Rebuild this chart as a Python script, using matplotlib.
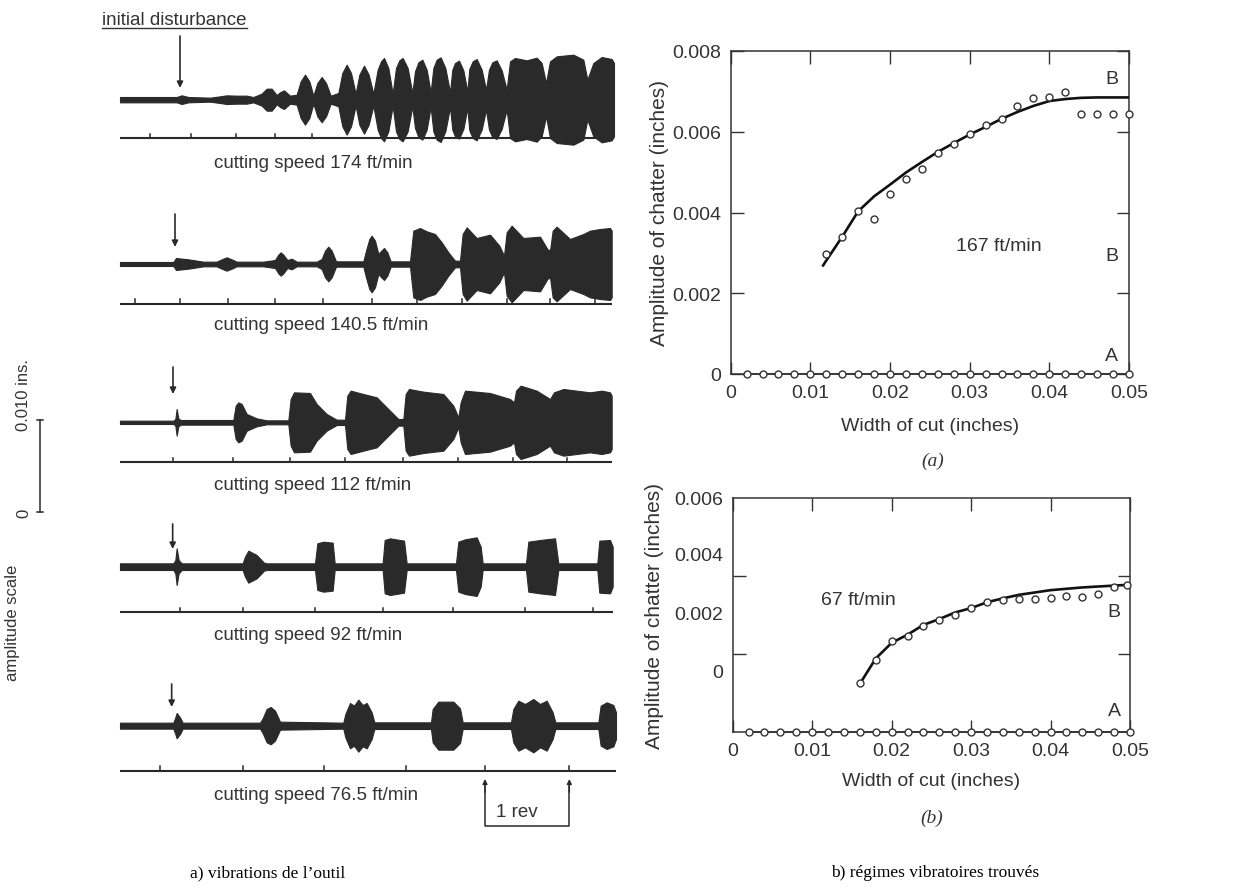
import matplotlib
matplotlib.use('Agg')
import matplotlib.pyplot as plt

plt.rcParams['font.family'] = ['Liberation Sans', 'DejaVu Sans']
INK = '#333333'
TRACE = '#2a2a2a'

# ---------------- data: chatter recordings (chart units / recorder units) ----------------
speeds = ['174', '140.5', '112', '92', '76.5']

trace1_t = [30, 200, 215, 235, 300, 330, 350, 380, 410, 430, 455, 470, 485, 500, 510, 522, 540, 560, 572, 585,
            598, 610, 622, 635, 648, 662, 685, 697, 710, 723, 737, 748, 762, 776, 790, 803, 813, 822, 835, 848,
            858, 868, 878, 893, 907, 915, 925, 937, 950, 962, 970, 980, 992, 1006, 1020, 1027, 1035, 1047, 1060,
            1072, 1078, 1088, 1100, 1115, 1128, 1137, 1147, 1160, 1175, 1190, 1200, 1215, 1250, 1280, 1295, 1308,
            1320, 1340, 1390, 1420, 1432, 1450, 1475, 1505, 1512]
trace1_a = [8, 8, 13, 8, 6, 10, 13, 12, 12, 8, 18, 33, 33, 14, 22, 28, 12, 15, 55, 75,
            55, 12, 50, 68, 50, 12, 20, 80, 105, 80, 18, 75, 102, 75, 18, 90, 115, 125, 95, 18,
            95, 118, 125, 95, 20, 85, 112, 120, 90, 22, 95, 120, 127, 95, 22, 90, 110, 117, 88,
            25, 92, 115, 122, 90, 30, 90, 112, 118, 88, 30, 115, 125, 118, 126, 110, 50,
            115, 130, 135, 120, 60, 110, 128, 122, 110]

trace2_t = [30, 190, 198, 235, 280, 320, 335, 350, 365, 380, 460, 495, 505, 512, 520, 532, 545, 560, 620, 635,
            645, 655, 665, 678, 760, 768, 778, 785, 795, 805, 812, 822, 832, 842, 900, 910, 930, 950, 975, 995,
            1015, 1035, 1050, 1058, 1070, 1100, 1140, 1168, 1182, 1190, 1205, 1240, 1290, 1312, 1320, 1328, 1340,
            1380, 1420, 1440, 1470, 1500, 1505]
trace2_a = [6, 6, 18, 14, 7, 7, 14, 20, 14, 7, 7, 12, 28, 35, 28, 12, 16, 7, 7, 15,
            40, 52, 40, 8, 8, 40, 75, 85, 70, 30, 38, 48, 35, 8, 8, 100, 108, 98, 90, 65,
            35, 10, 10, 90, 110, 78, 88, 55, 25, 95, 115, 78, 82, 45, 40, 100, 112,
            75, 90, 100, 105, 108, 100]

trace3_t = [30, 190, 196, 200, 205, 212, 370, 377, 385, 395, 410, 440, 470, 535, 542, 552, 600, 620, 650, 680,
            705, 712, 722, 760, 800, 840, 865, 880, 887, 897, 940, 1000, 1030, 1045, 1052, 1065, 1140, 1200, 1212,
            1218, 1232, 1280, 1320, 1332, 1360, 1400, 1440, 1475, 1500, 1505]
trace3_a = [5, 5, 10, 40, 12, 7, 7, 50, 60, 55, 25, 12, 6, 6, 70, 90, 88, 55, 25, 8,
            8, 80, 95, 85, 75, 35, 10, 10, 85, 100, 92, 85, 50, 15, 60, 95, 88, 70, 60,
            95, 110, 95, 70, 90, 100, 95, 90, 95, 90, 80]

trace4_t = [30, 190, 196, 200, 206, 215, 398, 405, 415, 440, 462, 470, 615, 622, 640, 668, 674, 818, 824, 840,
            882, 890, 1038, 1045, 1065, 1100, 1112, 1118, 1248, 1255, 1290, 1335, 1345, 1462, 1468, 1500, 1508]
trace4_a = [10, 10, 20, 55, 20, 10, 10, 30, 48, 35, 12, 10, 10, 70, 75, 72, 10, 10, 80, 85,
            78, 10, 10, 75, 82, 88, 60, 10, 10, 75, 80, 85, 10, 10, 78, 80, 60]

trace5_t = [30, 190, 196, 200, 210, 218, 450, 458, 470, 482, 495, 510, 700, 706, 720, 732, 745, 758, 770, 785,
            793, 963, 968, 985, 1030, 1050, 1058, 1203, 1210, 1225, 1245, 1270, 1290, 1310, 1328, 1336, 1465,
            1472, 1490, 1510, 1518]
trace5_a = [9, 9, 25, 38, 25, 9, 9, 22, 50, 56, 45, 12, 9, 35, 68, 60, 78, 62, 68, 40,
            10, 10, 50, 72, 72, 52, 10, 10, 50, 75, 65, 80, 65, 75, 40, 10, 10,
            60, 70, 62, 40]

rev_ticks = [[120, 243, 378, 495, 605],
             [75, 210, 355, 495, 640, 785, 920, 1055, 1190, 1320, 1455],
             [190, 370, 540, 705, 878, 1045, 1210, 1370],
             [210, 400, 615, 820, 1030, 1245, 1450],
             [150, 400, 643, 888, 1125, 1378]]
disturbance_t = [210, 195, 189, 188, 185]
scale_units = 276          # recorder units equal to 0.010 in
one_rev = [1125, 1378]     # chart units spanning 1 revolution (76.5 ft/min trace)

# ---------------- data: chatter amplitude vs width of cut ----------------
a_B_x = [0.012, 0.014, 0.016, 0.018, 0.020, 0.022, 0.024, 0.026, 0.028, 0.030,
         0.032, 0.034, 0.036, 0.038, 0.040, 0.042, 0.044, 0.046, 0.048, 0.050]
a_B_y = [0.00298, 0.00340, 0.00404, 0.00383, 0.00445, 0.00483, 0.00508, 0.00548, 0.00569, 0.00595,
         0.00616, 0.00631, 0.00663, 0.00684, 0.00685, 0.00698, 0.00643, 0.00643, 0.00643, 0.00643]
a_fit_x = [0.0116, 0.012, 0.014, 0.016, 0.018, 0.020, 0.022, 0.024, 0.026, 0.028, 0.030, 0.032,
           0.034, 0.036, 0.038, 0.040, 0.042, 0.044, 0.046, 0.048, 0.050]
a_fit_y = [0.00269, 0.00281, 0.00340, 0.00403, 0.00440, 0.00469, 0.00499, 0.00525, 0.00550, 0.00572,
           0.00593, 0.00612, 0.00632, 0.00649, 0.00664, 0.00676, 0.00681, 0.00684, 0.00685, 0.00685, 0.00685]
A_x = [0.002, 0.004, 0.006, 0.008, 0.010, 0.012, 0.014, 0.016, 0.018, 0.020, 0.022, 0.024, 0.026,
       0.028, 0.030, 0.032, 0.034, 0.036, 0.038, 0.040, 0.042, 0.044, 0.046, 0.048, 0.050]
A_y = [0.0] * len(A_x)

b_B_x = [0.016, 0.018, 0.020, 0.022, 0.024, 0.026, 0.028, 0.030, 0.032, 0.034,
         0.036, 0.038, 0.040, 0.042, 0.044, 0.046, 0.048, 0.0496]
b_B_y = [0.00126, 0.00186, 0.00235, 0.00246, 0.00271, 0.00287, 0.00300, 0.00318, 0.00333, 0.00339,
         0.00341, 0.00341, 0.00343, 0.00350, 0.00347, 0.00354, 0.00373, 0.00377]
b_fit_x = [0.016, 0.018, 0.020, 0.022, 0.024, 0.026, 0.028, 0.030, 0.032, 0.034, 0.036, 0.040, 0.044, 0.050]
b_fit_y = [0.00124, 0.00189, 0.00229, 0.00250, 0.00275, 0.00290, 0.00307, 0.00318, 0.00333, 0.00343,
           0.00352, 0.00364, 0.00371, 0.00378]

x_ticks = [0, 0.01, 0.02, 0.03, 0.04, 0.05]
x_labels = ['0', '0.01', '0.02', '0.03', '0.04', '0.05']
a_y_ticks = [0, 0.002, 0.004, 0.006, 0.008]
a_y_labels = ['0', '0.002', '0.004', '0.006', '0.008']
b_y_ticks = [0.002, 0.004]
b_y_label_pos = [0.001577, 0.003073, 0.004566, 0.006]
b_y_labels = ['0', '0.002', '0.004', '0.006']

# ---------------- layout ----------------
W, H = 1252, 895
fig = plt.figure(figsize=(W / 100, H / 100), dpi=100)

axL = fig.add_axes([0, 1 - 850 / H, 640 / W, 850 / H])
axL.set_xlim(-330, 1590)
axL.set_ylim(-2550, 0)
axL.axis('off')

base_u = [-302, -795, -1270, -1703, -2180]
ref_u = [-418, -915, -1390, -1840, -2315]
label_u = [-489, -976, -1458, -1908, -2388]
arrow_tail_u = [-111, -645, -1104, -1575, -2055]
arrow_tip_u = [-267, -744, -1185, -1650, -2124]
trace_t = [trace1_t, trace2_t, trace3_t, trace4_t, trace5_t]
trace_a = [trace1_a, trace2_a, trace3_a, trace4_a, trace5_a]

for i in range(5):
    b0 = base_u[i]
    t = trace_t[i]
    a = trace_a[i]
    axL.fill_between(t, [b0 - v for v in a], [b0 + v for v in a], color=TRACE, lw=0.8, edgecolor=TRACE)
    axL.plot([30, t[-1]], [ref_u[i], ref_u[i]], color=TRACE, lw=1.5, solid_capstyle='butt')
    for tk in rev_ticks[i]:
        axL.plot([tk, tk], [ref_u[i], ref_u[i] + 14], color=TRACE, lw=1.1)
    axL.annotate('', xy=(disturbance_t[i], arrow_tip_u[i]), xytext=(disturbance_t[i], arrow_tail_u[i]),
                 arrowprops=dict(arrowstyle='-|>', color=TRACE, lw=1.2, mutation_scale=9,
                                 shrinkA=0, shrinkB=0))
    axL.text(312, label_u[i], 'cutting speed %s ft/min' % speeds[i], ha='left', va='center',
             fontsize=13.5, color=INK)

# initial disturbance label (underlined)
tx = axL.text(-24, -75, 'initial disturbance', ha='left', va='baseline', fontsize=13.5, color=INK)
fig.canvas.draw()
bb = tx.get_window_extent()
inv = axL.transData.inverted()
x0d = inv.transform((bb.x0, bb.y0))[0]
x1d = inv.transform((bb.x1, bb.y0))[0]
axL.plot([x0d, x1d], [-86, -86], color=INK, lw=1.0)

# 1 rev bracket
r0, r1 = one_rev
axL.plot([r0, r0, r1, r1], [-2355, -2480, -2480, -2355], color=TRACE, lw=1.1)
for r in one_rev:
    axL.annotate('', xy=(r, -2340), xytext=(r, -2380),
                 arrowprops=dict(arrowstyle='-|>', color=TRACE, lw=1.0, mutation_scale=7,
                                 shrinkA=0, shrinkB=0))
axL.text(1158, -2439, '1 rev', ha='left', va='center', fontsize=13.5, color=INK)

# amplitude scale bar
bar_c = -210
bar_bottom = -1540
axL.plot([bar_c, bar_c], [bar_bottom, bar_bottom + scale_units], color=TRACE, lw=1.1)
for yy in (bar_bottom, bar_bottom + scale_units):
    axL.plot([bar_c - 8, bar_c + 8], [yy, yy], color=TRACE, lw=1.1)
axL.text(-258, bar_bottom, '0', rotation=90, ha='center', va='center', fontsize=12, color=INK)
axL.text(-258, -1185, '0.010 ins.', rotation=90, ha='center', va='center', fontsize=12, color=INK)
axL.text(-291, -1869, 'amplitude scale', rotation=90, ha='center', va='center', fontsize=12, color=INK)


def style(ax):
    for sp in ax.spines.values():
        sp.set_linewidth(1.1)
        sp.set_color(INK)
    ax.set_xlim(0, 0.05)
    ax.set_xticks(x_ticks, x_labels)
    ax.tick_params(which='major', direction='in', length=9, width=1.0, top=True, right=True,
                   colors=INK, labelsize=14, pad=7)


mk = dict(marker='o', ms=5, mfc='white', mec=INK, mew=1.0, clip_on=False, zorder=4)

# (a)
axA = fig.add_axes([730.7 / W, 1 - 375 / H, 398.3 / W, 323 / H])
style(axA)
axA.set_ylim(0, 0.008)
axA.set_yticks(a_y_ticks, a_y_labels)
axA.plot(a_fit_x, a_fit_y, color='#111111', lw=1.9, zorder=3)
axA.plot(A_x, A_y, color=INK, lw=1.2, clip_on=False, zorder=3)
axA.plot(A_x, A_y, ls='none', **mk)
axA.plot(a_B_x, a_B_y, ls='none', **mk)
axA.text(0.0478, 0.00731, 'B', ha='center', va='center', fontsize=14, color=INK)
axA.text(0.0478, 0.00293, 'B', ha='center', va='center', fontsize=14, color=INK)
axA.text(0.0478, 0.000455, 'A', ha='center', va='center', fontsize=14, color=INK)
axA.text(0.0336, 0.00318, '167 ft/min', ha='center', va='center', fontsize=14, color=INK)
axA.set_xlabel('Width of cut (inches)', fontsize=14, color=INK)
axA.xaxis.set_label_coords(0.5, -0.160)
axA.xaxis.label.set_va('center')
axA.set_ylabel('Amplitude of chatter (inches)', fontsize=15, color=INK)
axA.yaxis.set_label_coords(-0.180, 0.5)
axA.yaxis.label.set_va('center')

# (b)
axB = fig.add_axes([732.7 / W, 1 - 733.3 / H, 397.3 / W, 234.3 / H])
style(axB)
axB.set_ylim(0, 0.006)
axB.set_yticks(b_y_ticks, ['', ''])
axB.set_yticks(b_y_label_pos, b_y_labels, minor=True)
axB.tick_params(axis='y', which='minor', direction='in', length=0, right=False, left=True,
                colors=INK, labelsize=14, pad=7)
axB.plot(b_fit_x, b_fit_y, color='#111111', lw=1.9, zorder=3)
axB.plot(A_x, A_y, color=INK, lw=1.2, clip_on=False, zorder=3)
axB.plot(A_x, A_y, ls='none', **mk)
axB.plot(b_B_x, b_B_y, ls='none', **mk)
axB.text(0.048, 0.00309, 'B', ha='center', va='center', fontsize=14, color=INK)
axB.text(0.048, 0.00057, 'A', ha='center', va='center', fontsize=14, color=INK)
axB.text(0.0158, 0.00339, '67 ft/min', ha='center', va='center', fontsize=14, color=INK)
axB.set_xlabel('Width of cut (inches)', fontsize=14, color=INK)
axB.xaxis.set_label_coords(0.5, -0.2066)
axB.xaxis.label.set_va('center')
axB.set_ylabel('Amplitude of chatter (inches)', fontsize=15, color=INK)
axB.yaxis.set_label_coords(-0.1956, 0.5)
axB.yaxis.label.set_va('center')

serif = ['Liberation Serif', 'DejaVu Serif']
fig.text(933 / W, 1 - 461.7 / H, '(a)', ha='center', va='center', fontsize=14, style='italic',
         family=serif, color=INK)
fig.text(931.7 / W, 1 - 818.3 / H, '(b)', ha='center', va='center', fontsize=14, style='italic',
         family=serif, color=INK)
fig.text(268 / W, 1 - 873 / H, 'a) vibrations de l\u2019outil', ha='center', va='center', fontsize=12.5,
         family=serif, color='black')
fig.text(935 / W, 1 - 873 / H, 'b) r\u00e9gimes vibratoires trouv\u00e9s', ha='center', va='center',
         fontsize=12.5, family=serif, color='black')

fig.savefig('out.png', dpi=100)
